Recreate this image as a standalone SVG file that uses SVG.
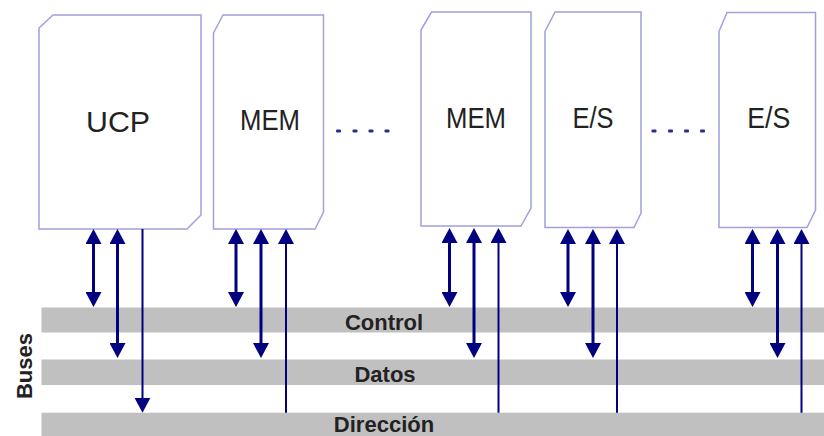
<svg xmlns="http://www.w3.org/2000/svg" width="824" height="436" viewBox="0 0 824 436">
  <style>
    .box { fill: #ffffff; stroke: #a0a0e0; stroke-width: 1.5; }
    .unit { font-family: "Liberation Sans", Arial, sans-serif; font-size: 29px; fill: #222222; text-anchor: middle; }
    .bus { fill: #c0c0c0; }
    .buslabel { font-family: "Liberation Sans", Arial, sans-serif; font-size: 22px; font-weight: bold; fill: #222222; text-anchor: middle; }
    .dots { fill: #2a2aa0; }
    .bi { stroke: #000080; stroke-width: 3; fill: none; marker-start: url(#head); marker-end: url(#head); }
    .uni { stroke: #000080; stroke-width: 2; fill: none; marker-end: url(#head); }
  </style>
  <defs>
    <marker id="head" viewBox="0 0 15 16" markerWidth="15" markerHeight="16" refX="7" refY="8" orient="auto-start-reverse" markerUnits="userSpaceOnUse">
      <path d="M0,0 L15,8 L0,16 Z" fill="#000080"/>
    </marker>
  </defs>

  <!-- system buses -->
  <g id="bus-control">
    <rect class="bus" x="41.5" y="307.5" width="782.5" height="25"/>
    <text class="buslabel" x="384" y="329.5">Control</text>
  </g>
  <g id="bus-datos">
    <rect class="bus" x="41.5" y="359.5" width="782.5" height="25.5"/>
    <text class="buslabel" x="385" y="381.5">Datos</text>
  </g>
  <g id="bus-direccion">
    <rect class="bus" x="41.5" y="412.7" width="782.5" height="24"/>
    <text class="buslabel" x="384" y="431.5">Dirección</text>
  </g>
  <text class="buslabel" transform="translate(31.5,366) rotate(-90)" x="0" y="0">Buses</text>

  <!-- units -->
  <g id="ucp">
    <path class="box" d="M39,28 L53,15 L201,15 L201,215 L187,229 L39,229 Z"/>
    <text class="unit" x="118" y="131.5" textLength="64" lengthAdjust="spacingAndGlyphs">UCP</text>
  </g>
  <g id="mem1">
    <path class="box" d="M213.5,33 L223,15 L323.5,15 L323.5,212 L315,229 L213.5,229 Z"/>
    <text class="unit" x="270" y="130" textLength="60" lengthAdjust="spacingAndGlyphs">MEM</text>
  </g>
  <g id="mem2">
    <path class="box" d="M421,30 L431.5,12 L531,12 L531,208 L521,226 L421,226 Z"/>
    <text class="unit" x="476" y="127.7" textLength="60" lengthAdjust="spacingAndGlyphs">MEM</text>
  </g>
  <g id="es1">
    <path class="box" d="M545,31.5 L555,12 L641,12 L641,213 L634,227.5 L545,227.5 Z"/>
    <text class="unit" x="593" y="127.7" textLength="41" lengthAdjust="spacingAndGlyphs">E/S</text>
  </g>
  <g id="es2">
    <path class="box" d="M719,31.5 L727,12.5 L815.5,12.5 L815.5,210 L807,227.5 L719,227.5 Z"/>
    <text class="unit" x="768.7" y="127.7" textLength="43" lengthAdjust="spacingAndGlyphs">E/S</text>
  </g>

  <!-- ellipsis between repeated units -->
  <g id="ellipsis-mem" class="dots">
    <rect x="336" y="129.5" width="5" height="3" rx="1"/>
    <rect x="352.5" y="129.5" width="5" height="3" rx="1"/>
    <rect x="368.5" y="129.5" width="5" height="3" rx="1"/>
    <rect x="384.5" y="129.5" width="5" height="3" rx="1"/>
  </g>
  <g id="ellipsis-es" class="dots">
    <rect x="651.5" y="129.5" width="5" height="3" rx="1"/>
    <rect x="668" y="129.5" width="5" height="3" rx="1"/>
    <rect x="684" y="129.5" width="5" height="3" rx="1"/>
    <rect x="700" y="129.5" width="5" height="3" rx="1"/>
  </g>

  <!-- bus connections -->
  <g id="connectors">
    <!-- UCP -->
    <line class="bi" x1="93.5" y1="237" x2="93.5" y2="299"/>
    <line class="bi" x1="117.5" y1="237" x2="117.5" y2="350"/>
    <line class="uni" x1="142.5" y1="229" x2="142.5" y2="404.7"/>
    <!-- MEM -->
    <line class="bi" x1="236" y1="237" x2="236" y2="299"/>
    <line class="bi" x1="261" y1="237" x2="261" y2="350"/>
    <line class="uni" x1="286" y1="412.7" x2="286" y2="237"/>
    <!-- MEM -->
    <line class="bi" x1="449.5" y1="236" x2="449.5" y2="299"/>
    <line class="bi" x1="474" y1="236" x2="474" y2="350"/>
    <line class="uni" x1="498.5" y1="412.7" x2="498.5" y2="236"/>
    <!-- E/S -->
    <line class="bi" x1="568" y1="237" x2="568" y2="299"/>
    <line class="bi" x1="593" y1="237" x2="593" y2="350"/>
    <line class="uni" x1="617" y1="412.7" x2="617" y2="237"/>
    <!-- E/S -->
    <line class="bi" x1="752.5" y1="237" x2="752.5" y2="299"/>
    <line class="bi" x1="777.5" y1="237" x2="777.5" y2="350"/>
    <line class="uni" x1="801.5" y1="412.7" x2="801.5" y2="237"/>
  </g>
</svg>
